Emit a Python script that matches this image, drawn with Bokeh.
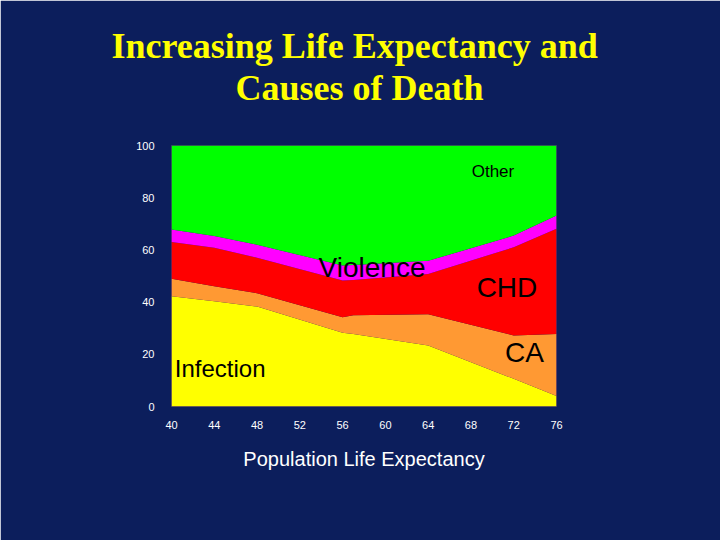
from bokeh.plotting import figure
from bokeh.models import ColumnDataSource, FixedTicker, Label, Title
from bokeh.embed import file_html
from bokeh.resources import INLINE

# ---- data (percent of deaths by cause vs population life expectancy) ----
life_expectancy = [40, 44, 48, 56, 57, 64, 72, 76]
infection = [42.2, 40.3, 38.3, 28.3, 27.8, 23.4, 10.6, 4.0]
cancer = [6.7, 5.8, 5.1, 5.9, 7.2, 11.9, 16.6, 23.8]
chd = [14.1, 14.7, 13.6, 14.1, 13.5, 15.5, 33.8, 40.3]
violence = [4.8, 4.5, 5.0, 5.7, 5.7, 5.0, 4.5, 5.1]
other = [32.2, 34.7, 38.0, 46.0, 45.8, 44.2, 34.5, 26.8]

causes = ["infection", "cancer", "chd", "violence", "other"]
cause_colors = ["#ffff00", "#ff9933", "#ff0000", "#ff00ff", "#00ff00"]
x_ticks = [40, 44, 48, 52, 56, 60, 64, 68, 72, 76]
y_ticks = [0, 20, 40, 60, 80, 100]
title_lines = ["Increasing Life Expectancy and", "Causes of Death"]

BG = "#0c1e5c"

source = ColumnDataSource(dict(x=life_expectancy, infection=infection, cancer=cancer,
                               chd=chd, violence=violence, other=other))

p = figure(width=720, height=540, x_range=(40, 76), y_range=(0, 100),
           output_backend="svg", toolbar_location=None,
           title=title_lines[0],
           min_border_left=171, min_border_right=164,
           min_border_top=145, min_border_bottom=134)
p.border_fill_color = BG
p.background_fill_color = BG
p.outline_line_color = "#3a2a6a"
p.outline_line_width = 1
p.grid.visible = False

def style_title(t, standoff, offset):
    t.align = "left"
    t.text_font = "Liberation Serif"
    t.text_font_style = "bold"
    t.text_font_size = "36px"
    t.text_color = "#ffff00"
    t.standoff = standoff
    t.offset = offset

# spacer between the frame and the title block
spacer = Title(text=" ", text_font_size="1px", standoff=35)
p.add_layout(spacer, "above")
t2 = Title(text=title_lines[1])
style_title(t2, 0, 64)
p.add_layout(t2, "above")
style_title(p.title, 0, -60)

p.varea_stack(stackers=causes, x="x", color=cause_colors, source=source)

for ax in (p.xaxis[0], p.yaxis[0]):
    ax.axis_line_color = None
    ax.major_tick_line_color = None
    ax.minor_tick_line_color = None
    ax.major_tick_out = 0
    ax.major_label_text_color = "white"
    ax.major_label_text_font = "Liberation Sans"
    ax.major_label_text_font_size = "11px"
p.xaxis[0].ticker = FixedTicker(ticks=x_ticks)
p.yaxis[0].ticker = FixedTicker(ticks=y_ticks)
p.xaxis[0].major_label_standoff = 14
p.yaxis[0].major_label_standoff = 17

p.xaxis[0].axis_label = "Population Life Expectancy"
p.xaxis[0].axis_label_text_font = "Liberation Sans"
p.xaxis[0].axis_label_text_font_style = "normal"
p.xaxis[0].axis_label_text_font_size = "20px"
p.xaxis[0].axis_label_text_color = "white"
p.xaxis[0].axis_label_standoff = 16

def add_label(text, x, y, size):
    p.add_layout(Label(x=x, y=y, text=text, text_align="center", text_baseline="alphabetic",
                       text_font="Liberation Sans", text_font_size=size, text_color="black"))

# in-area labels
add_label("Other", 70.06, 90.0, "17px")
add_label("Violence", 58.75, 53.3, "28px")
add_label("CHD", 71.37, 45.6, "28px")
add_label("CA", 73.0, 20.6, "28px")
add_label("Infection", 44.55, 14.6, "24px")

open("out.html", "w").write(file_html(p, INLINE))
